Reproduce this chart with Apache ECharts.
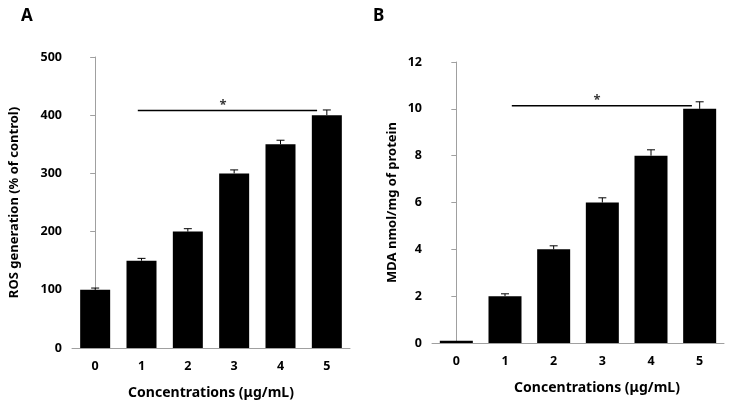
<!DOCTYPE html>
<html>
<head>
<meta charset="utf-8">
<script src="https://cdn.jsdelivr.net/npm/echarts@6/dist/echarts.min.js"></script>
<style>
  html, body { margin: 0; padding: 0; background: #fff; }
  #chart { width: 733px; height: 405px; }
</style>
</head>
<body>
<div id="chart"></div>
<script>
// categories (concentrations)
const categories = ['0', '1', '2', '3', '4', '5'];

// panel A: ROS generation (% of control)
const rosValues = [100, 150, 200, 300, 350, 400];
const rosErrors = [3, 4, 5, 6, 7, 9];
const rosTicks = [0, 100, 200, 300, 400, 500];
const rosSigLine = [[0.92, 408], [4.79, 408]];
const rosSigStar = [[2.76, 408]];

// panel B: MDA nmol/mg of protein
const mdaValues = [0.1, 2, 4, 6, 8, 10];
const mdaErrors = [0, 0.1, 0.15, 0.2, 0.25, 0.3];
const mdaTicks = [0, 2, 4, 6, 8, 10, 12];
const mdaSigLine = [[1.14, 10.13], [4.84, 10.13]];
const mdaSigStar = [[2.89, 10.13]];

const FONT = "'Noto Sans', 'DejaVu Sans', sans-serif";
const AXIS_GREY = '#a0a0a0';

let chartDom = document.getElementById('chart');
let myChart = echarts.init(chartDom);

function errorRenderer(errors) {
  return function (params, api) {
    const i = api.value(0);
    const v = api.value(1);
    const e = errors[params.dataIndex];
    if (!e) return null;
    const base = api.coord([i, v]);
    const top = api.coord([i, v + e]);
    const half = 4;
    return {
      type: 'group',
      children: [
        { type: 'line', shape: { x1: base[0], y1: base[1], x2: top[0], y2: top[1] }, style: { stroke: '#000', lineWidth: 1 } },
        { type: 'line', shape: { x1: top[0] - half, y1: top[1], x2: top[0] + half, y2: top[1] }, style: { stroke: '#000', lineWidth: 1 } }
      ]
    };
  };
}

function catAxis(gridIndex) {
  return {
    type: 'category',
    gridIndex: gridIndex,
    data: categories,
    name: 'Concentrations (μg/mL)',
    nameLocation: 'middle',
    nameGap: 38,
    nameTextStyle: { fontFamily: FONT, fontWeight: 'bold', fontSize: 14, color: '#000',
      padding: gridIndex === 1 ? [0, 0, 0, 38] : 0 },
    axisLine: { lineStyle: { color: AXIS_GREY } },
    axisTick: { length: 5, lineStyle: { color: AXIS_GREY } },
    axisLabel: { margin: 12, fontFamily: FONT, fontWeight: 'bold', fontSize: 12.5, color: '#000' }
  };
}

function hiddenX(gridIndex) {
  return { type: 'value', gridIndex: gridIndex, min: -0.5, max: 5.5, show: false };
}

function valAxis(gridIndex, ticks, interval, name, nameGap) {
  return {
    type: 'value',
    gridIndex: gridIndex,
    min: ticks[0],
    max: ticks[ticks.length - 1],
    interval: interval,
    name: name,
    nameLocation: 'middle',
    nameGap: nameGap,
    nameTextStyle: { fontFamily: FONT, fontWeight: 'bold', fontSize: 13, color: '#000' },
    axisLine: { show: true, lineStyle: { color: AXIS_GREY } },
    axisTick: { show: true, length: 5, lineStyle: { color: AXIS_GREY } },
    axisLabel: { margin: 10, fontFamily: FONT, fontWeight: 'bold', fontSize: 12.5, color: '#000' },
    splitLine: { show: false }
  };
}

function sigSeries(xAxisIndex, yAxisIndex, line, star) {
  return [
    {
      type: 'line',
      xAxisIndex: xAxisIndex,
      yAxisIndex: yAxisIndex,
      data: line,
      symbol: 'none',
      lineStyle: { color: '#000', width: 1.5 },
      silent: true
    },
    {
      type: 'scatter',
      xAxisIndex: xAxisIndex,
      yAxisIndex: yAxisIndex,
      data: star,
      symbolSize: 0,
      label: { show: true, formatter: '*', position: 'top', distance: -1,
        fontFamily: FONT, fontWeight: 'bold', fontSize: 13, color: '#000' },
      silent: true
    }
  ];
}

let option = {
  animation: false,
  backgroundColor: '#fff',
  title: [
    { text: 'A', left: 16, top: 3, textStyle: { fontFamily: FONT, fontWeight: 'bold', fontSize: 17, color: '#000' } },
    { text: 'B', left: 368, top: 3, textStyle: { fontFamily: FONT, fontWeight: 'bold', fontSize: 17, color: '#000' } }
  ],
  grid: [
    { left: 72, top: 57, width: 278, height: 291 },
    { left: 432, top: 62, width: 292, height: 281 }
  ],
  xAxis: [catAxis(0), catAxis(1), hiddenX(0), hiddenX(1)],
  yAxis: [
    valAxis(0, rosTicks, 100, 'ROS generation (% of control)', 51),
    valAxis(1, mdaTicks, 2, 'MDA nmol/mg of protein', 33)
  ],
  series: [
    {
      type: 'bar', xAxisIndex: 0, yAxisIndex: 0, data: rosValues,
      barWidth: 30, itemStyle: { color: '#000' }
    },
    {
      type: 'custom', xAxisIndex: 0, yAxisIndex: 0,
      data: rosValues.map((v, i) => [i, v]),
      renderItem: errorRenderer(rosErrors), z: 3
    },
    {
      type: 'bar', xAxisIndex: 1, yAxisIndex: 1, data: mdaValues,
      barWidth: 33, itemStyle: { color: '#000' }
    },
    {
      type: 'custom', xAxisIndex: 1, yAxisIndex: 1,
      data: mdaValues.map((v, i) => [i, v]),
      renderItem: errorRenderer(mdaErrors), z: 3
    },
    ...sigSeries(2, 0, rosSigLine, rosSigStar),
    ...sigSeries(3, 1, mdaSigLine, mdaSigStar)
  ]
};

myChart.setOption(option);
</script>
</body>
</html>
